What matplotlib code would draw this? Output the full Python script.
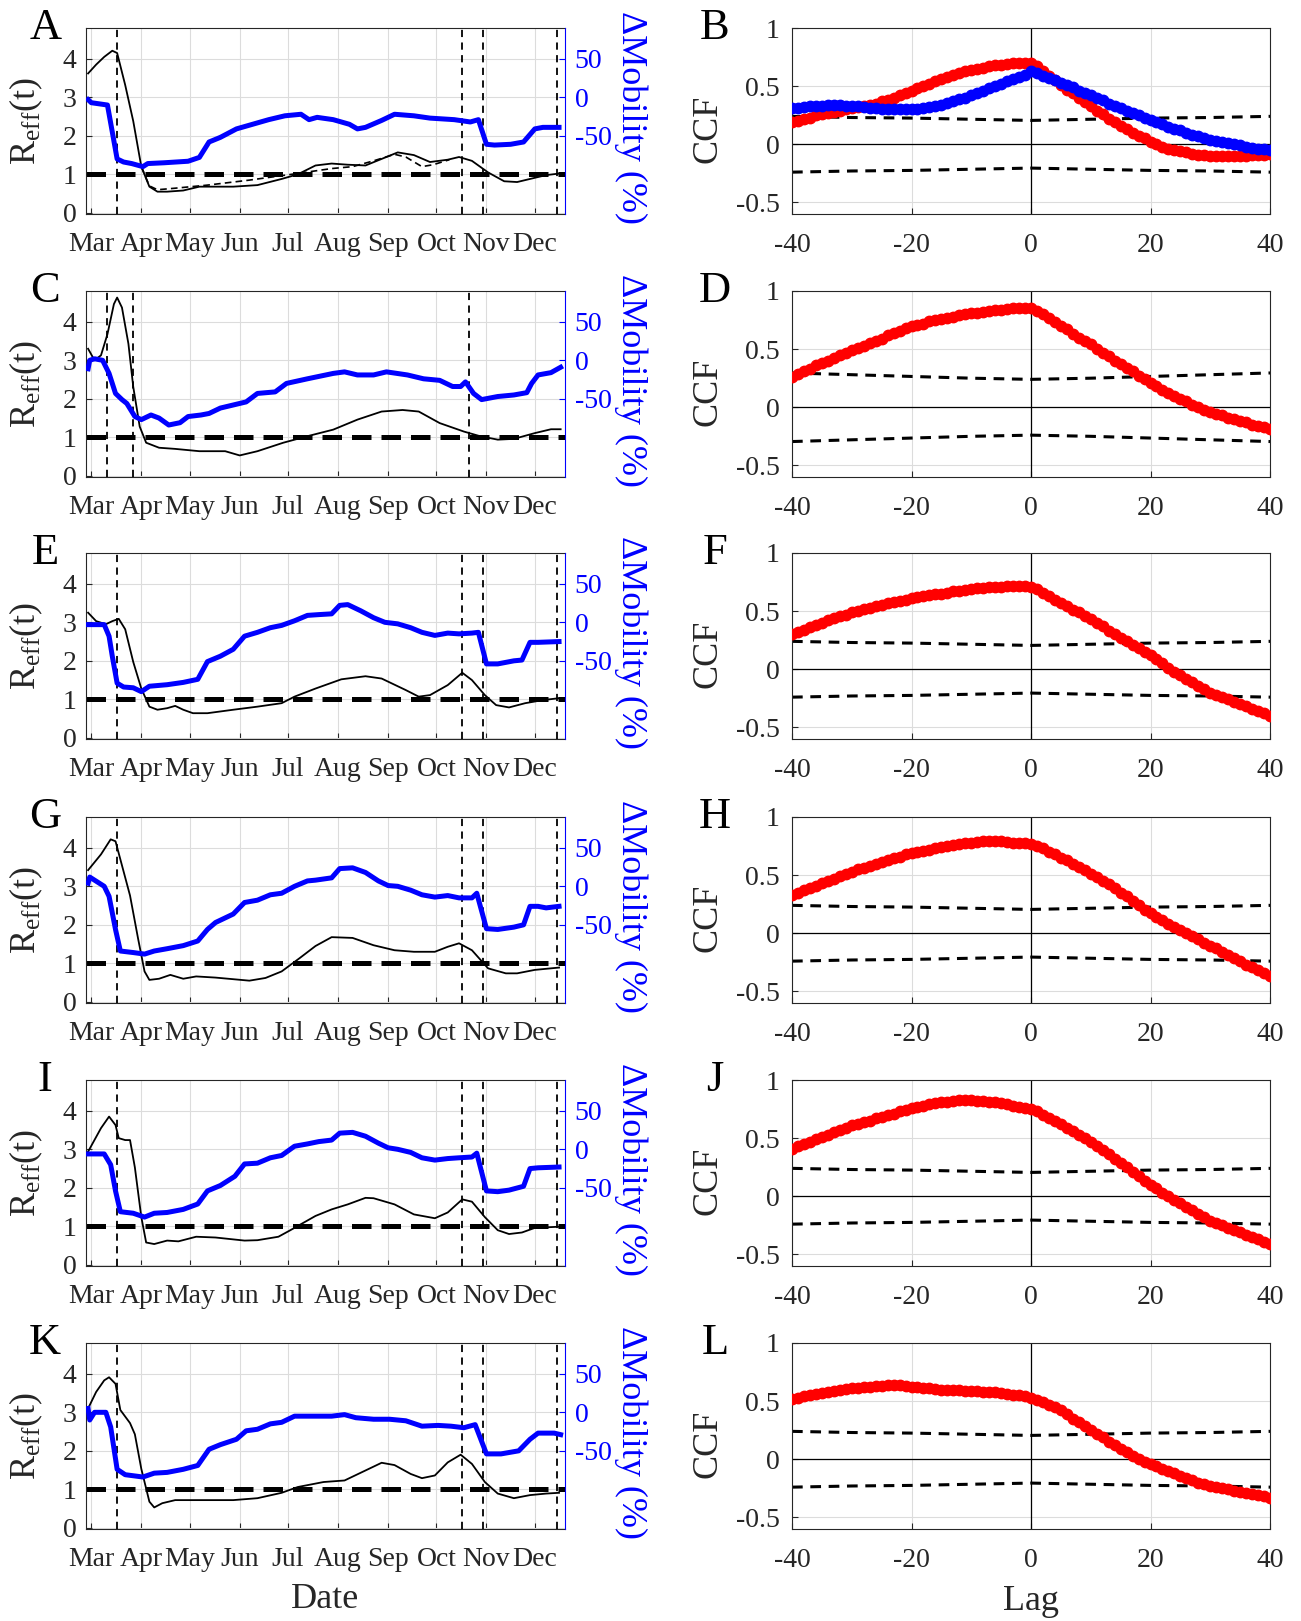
import matplotlib.pyplot as plt
import numpy as np
from matplotlib import rcParams

# Times-like font (Liberation Serif is metric-compatible with Times New Roman)
config = {
    "font.family": ['Liberation Serif', 'DejaVu Serif'],
    "mathtext.fontset": 'custom',
    "mathtext.rm": 'Liberation Serif',
    "mathtext.it": 'Liberation Serif:italic',
    "axes.unicode_minus": False,
}
rcParams.update(config)

# ---------------- data (days counted from 1 Mar 2020) ----------------
month_days = [0, 31, 61, 92, 122, 153, 184, 214, 245, 275]
month_names = ['Mar', 'Apr', 'May', 'Jun', 'Jul', 'Aug', 'Sep', 'Oct', 'Nov', 'Dec']

vlines_std = [16, 230, 243, 289]
vlines_C = [10, 26, 234]

# panel A
reff_days_A = [-2, 3, 8, 13, 16, 21, 26, 31, 36, 41, 47, 57, 67, 88, 103, 118, 128, 139, 149, 159,
               170, 180, 190, 200, 210, 221, 228, 236, 246, 256, 264, 272, 282, 290]
reff_A = [3.62, 3.85, 4.05, 4.21, 4.15, 3.32, 2.38, 1.2, 0.68, 0.55, 0.55, 0.58, 0.68, 0.68, 0.72, 0.88, 1.0, 1.23, 1.28, 1.25,
          1.23, 1.4, 1.57, 1.5, 1.32, 1.38, 1.45, 1.35, 1.05, 0.82, 0.8, 0.88, 0.98, 1.02]
reff2_days_A = [31, 36, 41, 52, 72, 98, 124, 149, 162, 175, 188, 195, 205, 212, 222]
reff2_A = [1.2, 0.7, 0.6, 0.64, 0.72, 0.85, 1.0, 1.15, 1.2, 1.35, 1.52, 1.45, 1.2, 1.25, 1.38]
mob_days_A = [-2, 0, 10, 13, 16, 20, 25, 32, 35, 45, 60, 67, 73, 80, 90, 100, 110, 120, 130, 135,
              140, 150, 160, 165, 170, 180, 188, 200, 210, 225, 235, 240, 245, 250, 260, 268, 275, 280, 290]
mob_A = [-3, -7, -10, -45, -80, -84, -86, -90, -86, -85, -83, -78, -58, -52, -41, -35, -29, -24, -22, -29,
         -26, -29, -35, -41, -39, -30, -22, -24, -27, -29, -32, -29, -61, -62, -61, -58, -41, -39, -39]

# panel C
reff_days_C = [-2, 2, 6, 10, 14, 16, 19, 23, 26, 30, 34, 42, 52, 67, 83, 92, 103, 119, 134, 150,
               165, 180, 193, 203, 216, 231, 241, 252, 262, 275, 285, 291]
reff_C = [3.3, 3.0, 3.13, 3.68, 4.46, 4.63, 4.37, 3.43, 2.31, 1.28, 0.86, 0.73, 0.70, 0.64, 0.64, 0.53, 0.64, 0.86, 1.03, 1.2,
          1.46, 1.67, 1.71, 1.67, 1.37, 1.15, 1.03, 0.94, 0.96, 1.11, 1.21, 1.21]
mob_days_C = [-2, -1, 2, 7, 11, 15, 19, 22, 27, 31, 37, 42, 48, 55, 60, 68, 73, 80, 88, 96,
              103, 114, 121, 134, 150, 157, 165, 175, 183, 196, 206, 216, 224, 229, 232, 237, 242, 252, 262, 270,
              273, 277, 285, 291]
mob_C = [-11, 0, 2, 0, -17, -43, -51, -56, -73, -77, -71, -75, -84, -81, -73, -71, -69, -62, -58, -54,
         -43, -41, -30, -24, -17, -15, -19, -19, -15, -19, -24, -26, -34, -34, -28, -43, -51, -47, -45, -42,
         -30, -19, -16, -9]

# panel E
reff_days_E = [-2, 3, 9, 13, 17, 21, 26, 31, 36, 41, 47, 52, 57, 63, 72, 88, 103, 118, 126, 139,
               155, 170, 180, 195, 203, 210, 221, 230, 236, 244, 251, 259, 269, 280, 290]
reff_E = [3.25, 3.03, 2.95, 3.03, 3.09, 2.82, 1.97, 1.28, 0.81, 0.73, 0.77, 0.83, 0.73, 0.64, 0.64, 0.73, 0.81, 0.9, 1.07, 1.28,
          1.52, 1.6, 1.54, 1.24, 1.07, 1.11, 1.37, 1.69, 1.5, 1.11, 0.85, 0.79, 0.9, 0.98, 1.03]
mob_days_E = [-2, 8, 11, 13, 16, 20, 26, 31, 36, 47, 57, 66, 72, 80, 88, 95, 103, 111, 118, 126,
              134, 141, 149, 154, 159, 167, 175, 182, 190, 198, 205, 213, 221, 228, 236, 240, 245, 252, 262, 267,
              272, 277, 290]
mob_E = [-3, -3, -18, -44, -79, -84, -85, -90, -83, -81, -78, -74, -51, -44, -35, -18, -13, -7, -4, 2,
         9, 10, 11, 22, 23, 15, 6, 0, -2, -7, -13, -17, -14, -15, -14, -13, -54, -54, -50, -49,
         -26, -26, -25]

# panel G
reff_days_G = [-2, 6, 12, 15, 18, 24, 29, 33, 36, 42, 49, 57, 65, 77, 98, 108, 118, 129, 139, 149,
               162, 175, 188, 200, 213, 221, 228, 236, 246, 257, 264, 275, 290]
reff_G = [3.42, 3.83, 4.22, 4.17, 3.7, 2.76, 1.64, 0.79, 0.57, 0.6, 0.7, 0.6, 0.66, 0.63, 0.55, 0.62, 0.79, 1.13, 1.45, 1.68,
          1.66, 1.47, 1.34, 1.3, 1.3, 1.43, 1.52, 1.34, 0.87, 0.74, 0.74, 0.83, 0.89]
mob_days_G = [-2, -1, 8, 11, 15, 18, 26, 33, 39, 47, 57, 66, 72, 77, 88, 95, 103, 111, 118, 126,
              134, 139, 149, 154, 162, 170, 178, 184, 190, 198, 205, 213, 221, 228, 236, 239, 245, 252, 262, 268,
              272, 277, 282, 290]
mob_G = [4, 12, 0, -13, -56, -84, -86, -88, -84, -81, -77, -71, -56, -47, -36, -21, -18, -11, -9, 0,
         7, 8, 11, 23, 24, 18, 7, 1, 0, -5, -11, -14, -12, -15, -15, -9, -55, -56, -53, -50,
         -26, -26, -28, -26]

# panel I
reff_days_I = [-2, 6, 11, 15, 17, 21, 24, 27, 31, 34, 39, 47, 54, 65, 77, 95, 103, 116, 123, 139,
               149, 159, 170, 175, 188, 200, 213, 221, 230, 236, 244, 252, 259, 267, 275, 290]
reff_I = [2.94, 3.55, 3.85, 3.63, 3.29, 3.24, 3.24, 2.53, 1.24, 0.58, 0.54, 0.63, 0.61, 0.73, 0.71, 0.63, 0.64, 0.73, 0.89, 1.27,
          1.44, 1.57, 1.74, 1.73, 1.57, 1.31, 1.21, 1.36, 1.7, 1.64, 1.24, 0.9, 0.8, 0.84, 0.96, 0.99]
mob_days_I = [-2, 8, 12, 15, 18, 26, 33, 39, 47, 57, 66, 72, 80, 89, 95, 103, 111, 118, 126, 134,
              141, 149, 154, 162, 170, 178, 184, 190, 198, 205, 213, 221, 228, 236, 239, 245, 252, 259, 268, 272,
              277, 290]
mob_I = [-6, -6, -20, -54, -81, -83, -88, -83, -82, -78, -71, -54, -47, -35, -19, -18, -11, -8, 4, 7,
         10, 12, 21, 22, 17, 8, 2, 0, -4, -11, -14, -12, -11, -10, -5, -54, -55, -53, -48, -25,
         -24, -23]

# panel K
reff_days_K = [-2, 3, 8, 11, 15, 18, 24, 27, 31, 36, 39, 44, 52, 67, 88, 103, 118, 128, 144, 157,
               170, 180, 188, 198, 205, 213, 221, 229, 236, 244, 252, 262, 272, 282, 290]
reff_K = [3.1, 3.53, 3.83, 3.91, 3.74, 3.06, 2.72, 2.43, 1.53, 0.68, 0.53, 0.64, 0.72, 0.72, 0.72, 0.77, 0.91, 1.06, 1.19, 1.23,
          1.49, 1.69, 1.63, 1.4, 1.29, 1.36, 1.7, 1.9, 1.66, 1.19, 0.89, 0.77, 0.85, 0.89, 0.91]
mob_days_K = [-2, -1, 2, 9, 12, 16, 21, 32, 39, 47, 57, 66, 73, 80, 90, 96, 103, 111, 118, 126,
              141, 149, 157, 164, 175, 185, 195, 205, 215, 223, 231, 238, 245, 254, 265, 272, 277, 287, 291]
mob_K = [5, -10, 0, 0, -19, -74, -81, -84, -79, -78, -74, -69, -48, -42, -35, -24, -22, -15, -13, -5,
         -5, -5, -3, -7, -9, -9, -11, -18, -17, -18, -20, -16, -54, -54, -50, -35, -27, -27, -29]

# cross-correlation functions, lag -40..40
lags = np.arange(-40, 41)
ccf_B_red = [0.19, 0.20, 0.22, 0.23, 0.25, 0.26, 0.27, 0.28, 0.29, 0.30,
             0.31, 0.32, 0.33, 0.34, 0.35, 0.37, 0.38, 0.40, 0.42, 0.44,
             0.46, 0.48, 0.50, 0.52, 0.54, 0.56, 0.58, 0.60, 0.61, 0.63,
             0.64, 0.65, 0.66, 0.67, 0.68, 0.685, 0.69, 0.695, 0.70, 0.70,
             0.70, 0.67, 0.63, 0.59, 0.55, 0.51, 0.47, 0.44, 0.40, 0.36,
             0.33, 0.29, 0.26, 0.22, 0.19, 0.16, 0.13, 0.10, 0.07, 0.05,
             0.02, 0.0, -0.02, -0.04, -0.05, -0.06, -0.07, -0.08, -0.09, -0.095,
             -0.10, -0.10, -0.105, -0.105, -0.10, -0.10, -0.10, -0.095, -0.09, -0.09, -0.085]
ccf_B_blue = [0.31, 0.315, 0.32, 0.325, 0.33, 0.33, 0.335, 0.335, 0.335, 0.33,
              0.33, 0.325, 0.32, 0.315, 0.31, 0.305, 0.30, 0.30, 0.30, 0.30,
              0.30, 0.305, 0.31, 0.32, 0.33, 0.34, 0.355, 0.37, 0.385, 0.40,
              0.42, 0.44, 0.46, 0.48, 0.50, 0.52, 0.54, 0.56, 0.58, 0.60,
              0.63, 0.61, 0.59, 0.57, 0.55, 0.53, 0.51, 0.49, 0.46, 0.44,
              0.42, 0.40, 0.38, 0.35, 0.33, 0.31, 0.29, 0.27, 0.25, 0.23,
              0.21, 0.19, 0.17, 0.15, 0.13, 0.12, 0.10, 0.08, 0.07, 0.05,
              0.04, 0.03, 0.02, 0.01, 0.0, -0.01, -0.02, -0.03, -0.04, -0.04, -0.05]
ccf_D = [0.26, 0.29, 0.31, 0.33, 0.36, 0.38, 0.40, 0.42, 0.45, 0.47,
         0.49, 0.51, 0.53, 0.55, 0.57, 0.59, 0.62, 0.64, 0.66, 0.68,
         0.70, 0.71, 0.72, 0.74, 0.75, 0.76, 0.77, 0.78, 0.79, 0.80,
         0.81, 0.815, 0.82, 0.83, 0.835, 0.84, 0.845, 0.85, 0.855, 0.855,
         0.855, 0.83, 0.80, 0.77, 0.73, 0.70, 0.67, 0.63, 0.60, 0.57,
         0.54, 0.50, 0.47, 0.44, 0.40, 0.37, 0.34, 0.31, 0.27, 0.24,
         0.21, 0.18, 0.15, 0.12, 0.10, 0.07, 0.05, 0.02, 0.0, -0.02,
         -0.04, -0.06, -0.07, -0.09, -0.10, -0.12, -0.13, -0.15, -0.16, -0.17, -0.19]
ccf_F = [0.30, 0.32, 0.34, 0.36, 0.38, 0.40, 0.42, 0.44, 0.46, 0.47,
         0.49, 0.50, 0.52, 0.53, 0.54, 0.55, 0.57, 0.58, 0.59, 0.60,
         0.61, 0.62, 0.63, 0.64, 0.645, 0.65, 0.66, 0.67, 0.675, 0.68,
         0.69, 0.695, 0.70, 0.705, 0.71, 0.71, 0.715, 0.715, 0.715, 0.715,
         0.71, 0.69, 0.66, 0.63, 0.60, 0.57, 0.54, 0.51, 0.49, 0.46,
         0.43, 0.40, 0.37, 0.33, 0.30, 0.27, 0.24, 0.21, 0.18, 0.15,
         0.12, 0.09, 0.05, 0.01, -0.02, -0.05, -0.08, -0.11, -0.14, -0.17,
         -0.20, -0.22, -0.24, -0.26, -0.28, -0.30, -0.32, -0.34, -0.36, -0.38, -0.40]
ccf_H = [0.33, 0.35, 0.37, 0.39, 0.41, 0.43, 0.45, 0.47, 0.49, 0.51,
         0.53, 0.55, 0.56, 0.58, 0.60, 0.61, 0.63, 0.65, 0.66, 0.68,
         0.69, 0.70, 0.71, 0.72, 0.73, 0.74, 0.75, 0.76, 0.77, 0.775,
         0.78, 0.785, 0.79, 0.79, 0.79, 0.79, 0.785, 0.78, 0.78, 0.775,
         0.77, 0.75, 0.73, 0.70, 0.68, 0.65, 0.63, 0.60, 0.57, 0.54,
         0.51, 0.48, 0.45, 0.42, 0.39, 0.35, 0.32, 0.28, 0.24, 0.20,
         0.17, 0.14, 0.11, 0.08, 0.05, 0.03, 0.0, -0.02, -0.05, -0.08,
         -0.11, -0.13, -0.16, -0.19, -0.21, -0.24, -0.27, -0.29, -0.32, -0.34, -0.37]
ccf_J = [0.41, 0.43, 0.45, 0.47, 0.49, 0.51, 0.53, 0.55, 0.57, 0.59,
         0.61, 0.62, 0.64, 0.65, 0.67, 0.68, 0.70, 0.71, 0.73, 0.74,
         0.76, 0.77, 0.78, 0.79, 0.80, 0.81, 0.815, 0.82, 0.825, 0.825,
         0.825, 0.82, 0.82, 0.815, 0.81, 0.80, 0.79, 0.78, 0.77, 0.76,
         0.75, 0.73, 0.70, 0.67, 0.65, 0.62, 0.59, 0.56, 0.53, 0.50,
         0.47, 0.43, 0.40, 0.36, 0.32, 0.29, 0.25, 0.21, 0.17, 0.13,
         0.10, 0.07, 0.03, 0.0, -0.03, -0.06, -0.09, -0.12, -0.15, -0.18,
         -0.21, -0.23, -0.25, -0.27, -0.29, -0.31, -0.33, -0.35, -0.37, -0.39, -0.41]
ccf_L = [0.52, 0.53, 0.54, 0.55, 0.56, 0.57, 0.58, 0.59, 0.60, 0.605,
         0.61, 0.615, 0.62, 0.625, 0.63, 0.63, 0.635, 0.635, 0.635, 0.63,
         0.625, 0.62, 0.615, 0.61, 0.605, 0.60, 0.60, 0.595, 0.595, 0.59,
         0.59, 0.585, 0.58, 0.58, 0.575, 0.57, 0.565, 0.555, 0.55, 0.54,
         0.53, 0.51, 0.49, 0.47, 0.45, 0.42, 0.39, 0.35, 0.32, 0.29,
         0.25, 0.22, 0.19, 0.15, 0.12, 0.09, 0.06, 0.03, 0.0, -0.02,
         -0.04, -0.06, -0.08, -0.10, -0.12, -0.14, -0.16, -0.18, -0.20, -0.21,
         -0.23, -0.24, -0.25, -0.26, -0.27, -0.28, -0.29, -0.30, -0.31, -0.32, -0.33]

# confidence bounds (upper; lower is the mirror)
bound_lags = [-40, -30, -20, -10, 0, 10, 20, 30, 40]
bound_std = [0.24, 0.23, 0.225, 0.215, 0.205, 0.215, 0.225, 0.23, 0.24]
bound_D = [0.295, 0.28, 0.265, 0.25, 0.24, 0.25, 0.265, 0.28, 0.295]

# ---------------- layout ----------------
W, H = 1301, 1621
row_tops = [28, 291, 553, 817, 1080, 1343]
ax_h = 186
TICK = 20
LAB = 26
DARK = '#262626'
GRID = '#dcdcdc'


def rect(x0, w, top):
    return [x0 / W, 1 - (top + ax_h) / H, w / W, ax_h / H]


def draw_left(top, letter, rd, rv, md, mv, vl, rd2=None, rv2=None, xlabel=False):
    ax = fig.add_axes(rect(86, 479, top))
    ax.plot(rd, rv, color='k', lw=1.3, zorder=3)
    if rd2 is not None:
        ax.plot(rd2, rv2, color='k', lw=1.2, ls=(0, (4, 2.5)), zorder=3)
    ax.axhline(1, color='k', lw=3.6, ls=(0, (3.9, 2.0)), zorder=2)
    for d in vl:
        ax.axvline(d, color='k', lw=1.3, ls=(0, (4, 3)), zorder=2)
    ax.set_xlim(-3.3, 293.7)
    ax.set_ylim(-0.03, 4.8)
    ax.set_yticks([0, 1, 2, 3, 4])
    ax.set_xticks(month_days)
    ax.set_xticklabels(month_names)
    ax.grid(True, color=GRID, lw=0.8)
    ax.set_axisbelow(True)
    ax.tick_params(direction='in', length=4, labelsize=TICK, colors=DARK)
    ax.tick_params(axis='x', pad=13)
    ax.tick_params(axis='y', pad=7)
    ax.spines['right'].set_visible(False)
    for s in ['left', 'top', 'bottom']:
        ax.spines[s].set_color(DARK)
        ax.spines[s].set_linewidth(0.8)
    ax.set_ylabel('R$_{\\mathrm{eff}}$(t)', fontsize=LAB, color=DARK, va='center')
    ax.yaxis.set_label_coords(-0.125, 0.5)
    ax.text(-0.085, 1.0, letter, transform=ax.transAxes, fontsize=32,
            ha='center', va='center')
    if xlabel:
        ax.set_xlabel('Date', fontsize=LAB, color=DARK, labelpad=8)

    ax2 = ax.twinx()
    ax2.plot(md, mv, color='blue', lw=3.6, solid_joinstyle='round', zorder=3)
    ax2.set_ylim(50 * (-0.03) - 150, 50 * 4.8 - 150)
    ax2.set_yticks([-50, 0, 50])
    ax2.tick_params(direction='in', length=4, labelsize=TICK, colors='blue', pad=7)
    for s in ['left', 'top', 'bottom']:
        ax2.spines[s].set_visible(False)
    ax2.spines['right'].set_color('blue')
    ax2.spines['right'].set_linewidth(0.8)
    ax2.set_ylabel('\u0394Mobility (%)', fontsize=LAB, color='blue', rotation=270, va='center')
    ax2.yaxis.set_label_coords(1.138, 0.52)
    return ax


def draw_right(top, letter, series, bound, xlabel=False):
    ax = fig.add_axes(rect(792, 478, top))
    ax.axhline(0, color='k', lw=0.9, zorder=1.5)
    ax.axvline(0, color='k', lw=0.9, zorder=1.5)
    ub = np.array(bound)
    ax.plot(bound_lags, ub, color='k', lw=2.2, ls=(0, (3.5, 2.5)), zorder=2)
    ax.plot(bound_lags, -ub, color='k', lw=2.2, ls=(0, (3.5, 2.5)), zorder=2)
    for vals, col in series:
        ax.plot(lags, vals, color=col, lw=1.5, marker='o', ms=7.5, mec=col, mfc=col, zorder=3)
    ax.set_xlim(-40, 40)
    ax.set_ylim(-0.6, 1)
    ax.set_xticks([-40, -20, 0, 20, 40])
    ax.set_yticks([-0.5, 0, 0.5, 1])
    ax.set_yticklabels(['-0.5', '0', '0.5', '1'])
    ax.grid(True, color=GRID, lw=0.8)
    ax.set_axisbelow(True)
    ax.tick_params(direction='in', length=4, labelsize=TICK, colors=DARK)
    ax.tick_params(axis='x', pad=14)
    ax.tick_params(axis='y', pad=9)
    for s in ax.spines.values():
        s.set_color(DARK)
        s.set_linewidth(0.8)
    ax.set_ylabel('CCF', fontsize=LAB, color=DARK, va='center')
    ax.yaxis.set_label_coords(-0.176, 0.46)
    ax.text(-0.161, 1.0, letter, transform=ax.transAxes, fontsize=32,
            ha='center', va='center')
    if xlabel:
        ax.set_xlabel('Lag', fontsize=LAB, color=DARK, labelpad=8)
    return ax


fig = plt.figure(figsize=(W / 100, H / 100), dpi=100)

draw_left(row_tops[0], 'A', reff_days_A, reff_A, mob_days_A, mob_A, vlines_std, reff2_days_A, reff2_A)
draw_left(row_tops[1], 'C', reff_days_C, reff_C, mob_days_C, mob_C, vlines_C)
draw_left(row_tops[2], 'E', reff_days_E, reff_E, mob_days_E, mob_E, vlines_std)
draw_left(row_tops[3], 'G', reff_days_G, reff_G, mob_days_G, mob_G, vlines_std)
draw_left(row_tops[4], 'I', reff_days_I, reff_I, mob_days_I, mob_I, vlines_std)
draw_left(row_tops[5], 'K', reff_days_K, reff_K, mob_days_K, mob_K, vlines_std, xlabel=True)

draw_right(row_tops[0], 'B', [(ccf_B_red, 'red'), (ccf_B_blue, 'blue')], bound_std)
draw_right(row_tops[1], 'D', [(ccf_D, 'red')], bound_D)
draw_right(row_tops[2], 'F', [(ccf_F, 'red')], bound_std)
draw_right(row_tops[3], 'H', [(ccf_H, 'red')], bound_std)
draw_right(row_tops[4], 'J', [(ccf_J, 'red')], bound_std)
draw_right(row_tops[5], 'L', [(ccf_L, 'red')], bound_std, xlabel=True)

fig.savefig('out.png', dpi=100)
